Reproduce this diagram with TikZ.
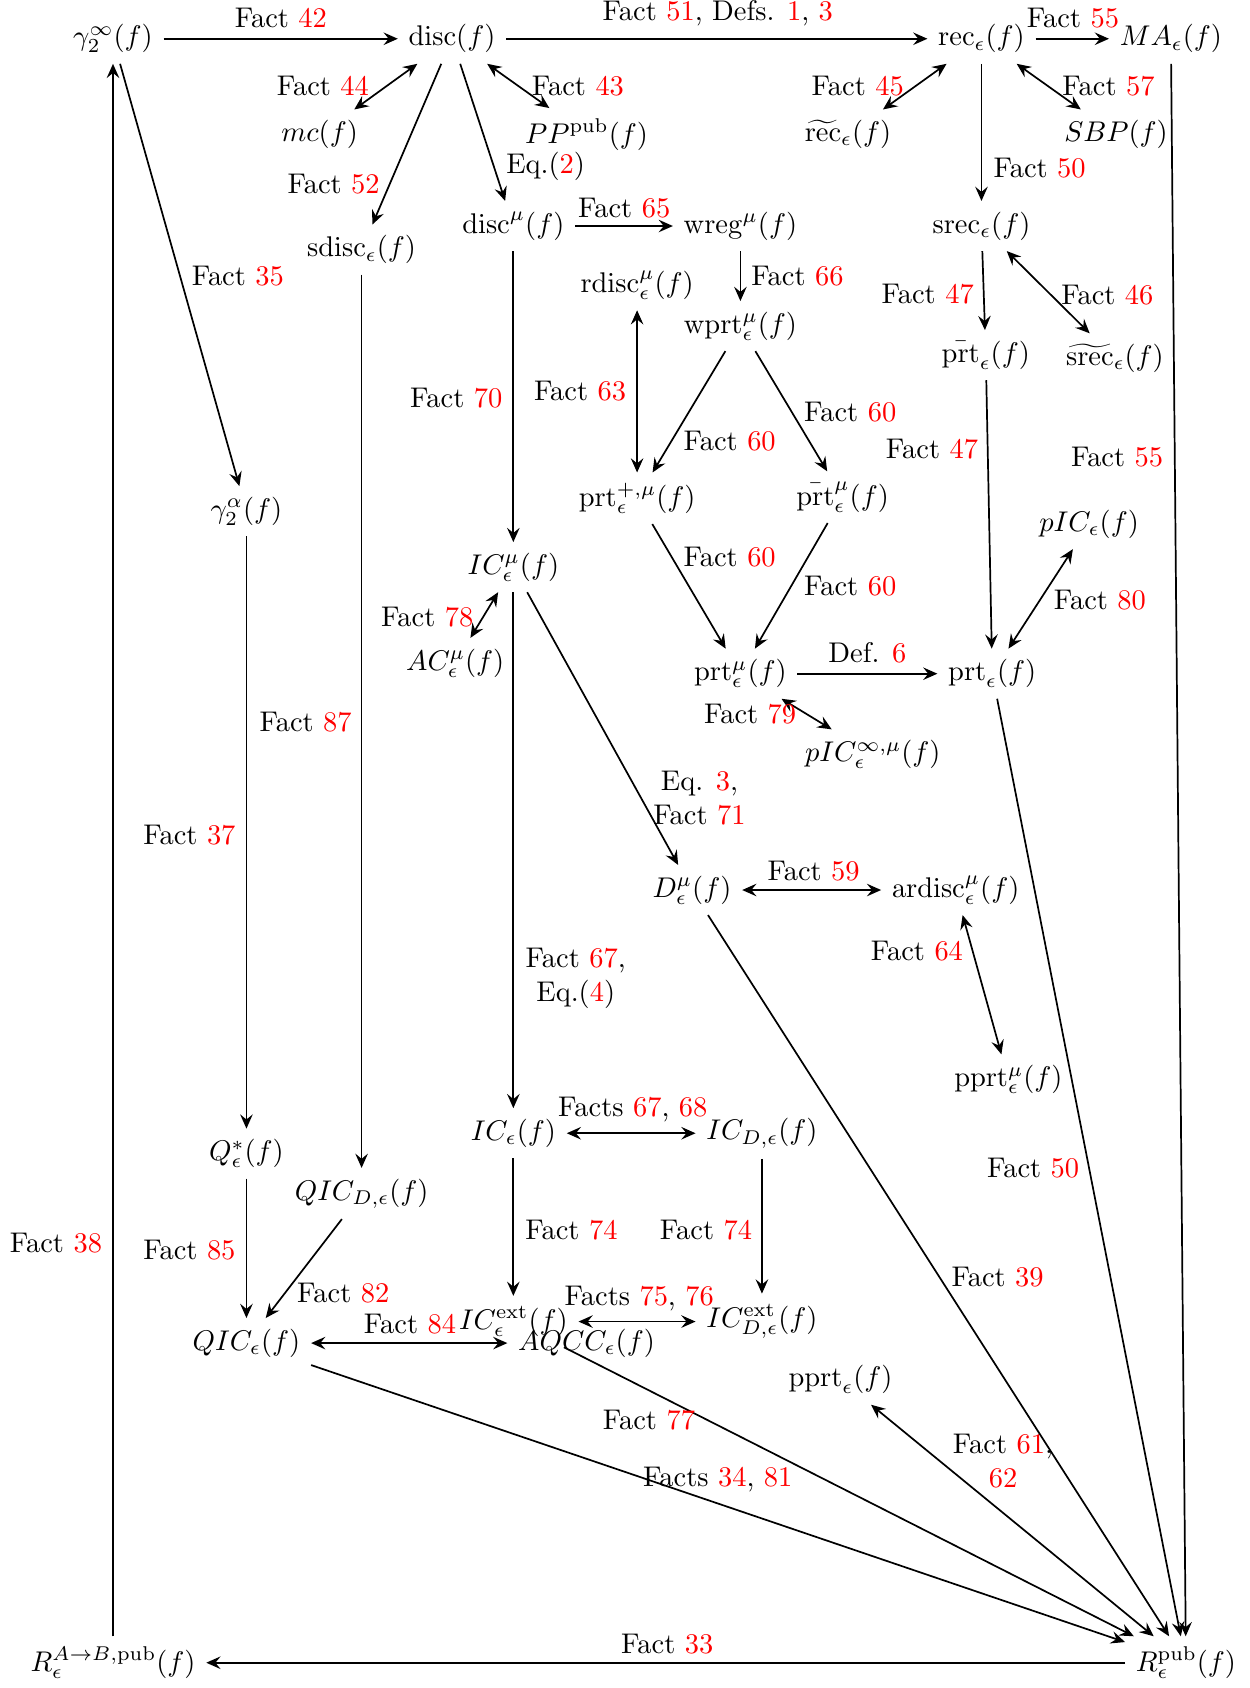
\documentclass[tikz,border=0pt]{standalone}
\usetikzlibrary{arrows.meta}
\newcommand{\myr}[1]{\textcolor{red}{#1}}
\begin{document}
\begin{tikzpicture}[x=0.378pt,y=-0.378pt,
  obj/.style={inner sep=3.6pt},
  lab/.style={inner sep=0pt},
  arr/.style={line width=0.6pt,-{Stealth[length=5pt,width=4.4pt,inset=1.8pt]}},
  darr/.style={line width=0.6pt,{Stealth[length=5pt,width=4.4pt,inset=1.8pt]}-{Stealth[length=5pt,width=4.4pt,inset=1.8pt]}}]
\useasboundingbox (0,0) rectangle (1161.5,1568.5);
% nodes
\node[obj] (g2inf) at (105,36) {$\gamma_2^{\infty}(f)$};
\node[obj] (disc) at (420,36) {$\mathrm{disc}(f)$};
\node[obj] (rec) at (912,36) {$\mathrm{rec}_\epsilon(f)$};
\node[obj] (MA) at (1088,36) {$MA_\epsilon(f)$};
\node[obj] (mc) at (297,125) {$mc(f)$};
\node[obj] (PP) at (545,125) {$PP^{\mathrm{pub}}(f)$};
\node[obj] (rect) at (788,125) {$\widetilde{\mathrm{rec}}_\epsilon(f)$};
\node[obj] (SBP) at (1037,125) {$SBP(f)$};
\node[obj] (discmu) at (477,210) {$\mathrm{disc}^\mu(f)$};
\node[obj] (wreg) at (688,210) {$\mathrm{wreg}^\mu(f)$};
\node[obj] (srec) at (912,210) {$\mathrm{srec}_\epsilon(f)$};
\node[obj] (sdisc) at (336,232) {$\mathrm{sdisc}_\epsilon(f)$};
\node[obj] (rdisc) at (592,265) {$\mathrm{rdisc}^\mu_\epsilon(f)$};
\node[obj] (wprt) at (688,303) {$\mathrm{wprt}^\mu_\epsilon(f)$};
\node[obj] (prtbar) at (916,330) {$\bar{\mathrm{prt}}_\epsilon(f)$};
\node[obj] (srect) at (1036,333) {$\widetilde{\mathrm{srec}}_\epsilon(f)$};
\node[obj] (g2a) at (229,475) {$\gamma_2^{\alpha}(f)$};
\node[obj] (prtplus) at (592,463) {$\mathrm{prt}^{+,\mu}_\epsilon(f)$};
\node[obj] (prtbarmu) at (783,462) {$\bar{\mathrm{prt}}^\mu_\epsilon(f)$};
\node[obj] (pIC) at (1012,487) {$pIC_\epsilon(f)$};
\node[obj] (ICmu) at (477,527) {$IC^\mu_\epsilon(f)$};
\node[obj] (ACmu) at (423,616) {$AC^\mu_\epsilon(f)$};
\node[obj] (prtmu) at (688,626) {$\mathrm{prt}^\mu_\epsilon(f)$};
\node[obj] (prt) at (922,626) {$\mathrm{prt}_\epsilon(f)$};
\node[obj] (pICinf) at (811,701) {$pIC^{\infty,\mu}_\epsilon(f)$};
\node[obj] (Dmu) at (643,827) {$D^\mu_\epsilon(f)$};
\node[obj] (ardisc) at (888,827) {$\mathrm{ardisc}^\mu_\epsilon(f)$};
\node[obj] (pprtmu) at (937,1003) {$\mathrm{pprt}^\mu_\epsilon(f)$};
\node[obj] (IC) at (477,1053) {$IC_\epsilon(f)$};
\node[obj] (ICD) at (708,1053) {$IC_{D,\epsilon}(f)$};
\node[obj] (Qs) at (229,1072) {$Q^*_\epsilon(f)$};
\node[obj] (QICD) at (336,1109) {$QIC_{D,\epsilon}(f)$};
\node[obj] (QIC) at (229,1248) {$QIC_\epsilon(f)$};
\node[obj] (ICext) at (477,1228) {$IC^{\mathrm{ext}}_\epsilon(f)$};
\node[obj] (AQCC) at (545,1248) {$AQCC_\epsilon(f)$};
\node[obj] (ICDext) at (708,1228) {$IC^{\mathrm{ext}}_{D,\epsilon}(f)$};
\node[obj] (pprt) at (781,1282) {$\mathrm{pprt}_\epsilon(f)$};
\node[obj] (RAB) at (105,1545) {$R^{A\to B,\mathrm{pub}}_\epsilon(f)$};
\node[obj] (Rpub) at (1102,1545) {$R^{\mathrm{pub}}_\epsilon(f)$};
% edges
\draw[arr] (g2inf) -- (disc);
\draw[arr] (disc) -- (rec);
\draw[arr] (rec) -- (MA);
\draw[darr] (disc) -- (mc);
\draw[darr] (disc) -- (PP);
\draw[arr] (disc) -- (sdisc);
\draw[arr] (disc) -- (discmu);
\draw[darr] (rec) -- (rect);
\draw[arr] (rec) -- (srec);
\draw[darr] (rec) -- (SBP);
\draw[arr] (MA) -- (Rpub);
\draw[arr] (g2inf) -- (g2a);
\draw[arr] (RAB) -- (g2inf);
\draw[arr] (discmu) -- (wreg);
\draw[arr] (wreg) -- (wprt);
\draw[arr] (discmu) -- (ICmu);
\draw[darr] (rdisc) -- (prtplus);
\draw[arr] (wprt) -- (prtplus);
\draw[arr] (wprt) -- (prtbarmu);
\draw[arr] (prtplus) -- (prtmu);
\draw[arr] (prtbarmu) -- (prtmu);
\draw[arr] (prtmu) -- (prt);
\draw[arr] (srec) -- (prtbar);
\draw[darr] (srec) -- (srect);
\draw[arr] (prtbar) -- (prt);
\draw[darr] (pIC) -- (prt);
\draw[arr] (prt) -- (Rpub);
\draw[darr] (prtmu) -- (pICinf);
\draw[darr] (ICmu) -- (ACmu);
\draw[arr] (ICmu) -- (Dmu);
\draw[darr] (Dmu) -- (ardisc);
\draw[darr] (ardisc) -- (pprtmu);
\draw[arr] (Dmu) -- (Rpub);
\draw[arr] (ICmu) -- (IC);
\draw[arr] (sdisc) -- (QICD);
\draw[arr] (g2a) -- (Qs);
\draw[darr] (IC) -- (ICD);
\draw[arr] (IC) -- (ICext);
\draw[arr] (ICD) -- (ICDext);
\draw[darr] (ICext) -- (ICDext);
\draw[arr] (Qs) -- (QIC);
\draw[arr] (QICD) -- (QIC);
\draw[darr] (QIC) -- (AQCC);
\draw[arr] (QIC) -- (Rpub);
\draw[arr] (ICext) -- (Rpub);
\draw[darr] (Rpub) -- (pprt);
\draw[arr] (Rpub) -- (RAB);
% labels
\node[lab] (l42) at (261,17) {Fact \myr{42}};
\node[lab] (l51) at (667,12) {Fact \myr{51}, Defs. \myr{1}, \myr{3}};
\node[lab] (l55a) at (997,17) {Fact \myr{55}};
\node[lab] (l44) at (300,80) {Fact \myr{44}};
\node[lab] (l43) at (537,80) {Fact \myr{43}};
\node[lab] (l45) at (797,80) {Fact \myr{45}};
\node[lab] (l57) at (1030,80) {Fact \myr{57}};
\node[lab] (l52) at (310,171) {Fact \myr{52}};
\node[lab] (leq2) at (507,155) {Eq.(\myr{2})};
\node[lab] (l50a) at (966,156) {Fact \myr{50}};
\node[lab] (l65) at (580,193) {Fact \myr{65}};
\node[lab] (l66) at (741,257) {Fact \myr{66}};
\node[lab] (l35) at (221,257) {Fact \myr{35}};
\node[lab] (l47a) at (862,273) {Fact \myr{47}};
\node[lab] (l46) at (1029,274) {Fact \myr{46}};
\node[lab] (l70) at (424,370) {Fact \myr{70}};
\node[lab] (l63) at (539,363) {Fact \myr{63}};
\node[lab] (l60a) at (790,383) {Fact \myr{60}};
\node[lab] (l60b) at (678,410) {Fact \myr{60}};
\node[lab] (l47b) at (866,417) {Fact \myr{47}};
\node[lab] (l55b) at (1038,425) {Fact \myr{55}};
\node[lab] (l60c) at (678,518) {Fact \myr{60}};
\node[lab] (l60d) at (790,545) {Fact \myr{60}};
\node[lab] (l80) at (1022,558) {Fact \myr{80}};
\node[lab] (l78) at (397,573) {Fact \myr{78}};
\node[lab] (ld6) at (806,607) {Def. \myr{6}};
\node[lab] (l87) at (284,671) {Fact \myr{87}};
\node[lab] (l79) at (697,664) {Fact \myr{79}};
\node[lab,align=center] (l71) at (650,742) {Eq. \myr{3},\\Fact \myr{71}};
\node[lab] (l37) at (176,776) {Fact \myr{37}};
\node[lab] (l59) at (756,809) {Fact \myr{59}};
\node[lab] (l64) at (852,884) {Fact \myr{64}};
\node[lab,align=center] (l67) at (535,909) {Fact \myr{67},\\Eq.(\myr{4})};
\node[lab] (l6768) at (588,1031) {Facts \myr{67}, \myr{68}};
\node[lab] (l50b) at (960,1085) {Fact \myr{50}};
\node[lab] (l74a) at (531,1143) {Fact \myr{74}};
\node[lab] (l74b) at (656,1143) {Fact \myr{74}};
\node[lab] (l38) at (52,1155) {Fact \myr{38}};
\node[lab] (l85) at (176,1162) {Fact \myr{85}};
\node[lab] (l39) at (927,1187) {Fact \myr{39}};
\node[lab] (l82) at (319,1202) {Fact \myr{82}};
\node[lab] (l7576) at (594,1207) {Facts \myr{75}, \myr{76}};
\node[lab] (l84) at (381,1230) {Fact \myr{84}};
\node[lab] (l77) at (603,1320) {Fact \myr{77}};
\node[lab,align=center] (l6162) at (932,1358) {Fact \myr{61},\\\myr{62}};
\node[lab] (l3481) at (667,1375) {Facts \myr{34}, \myr{81}};
\node[lab] (l33) at (620,1528) {Fact \myr{33}};
\end{tikzpicture}
\end{document}
